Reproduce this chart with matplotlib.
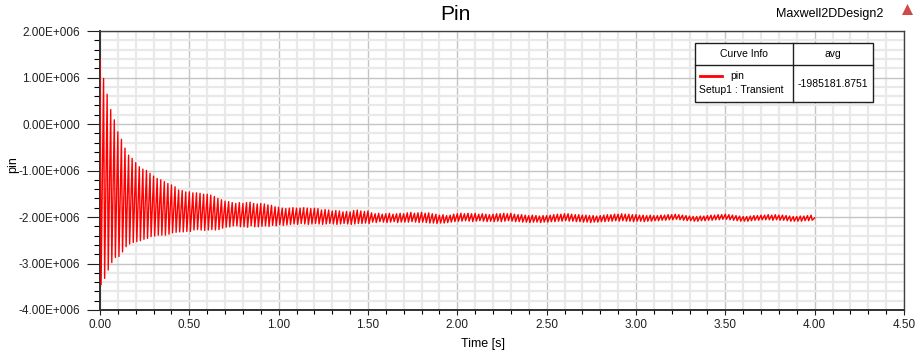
import numpy as np
import matplotlib.pyplot as plt
from matplotlib.patches import Rectangle, Polygon
from matplotlib.lines import Line2D
from matplotlib.ticker import MultipleLocator, FuncFormatter

plt.rcParams['font.family'] = ['Liberation Sans', 'DejaVu Sans']

# peak values of each 50 Hz cycle, in 1E6 units
upper = [
    1.38, 0.98, 0.64, 0.31, 0.09, -0.17, -0.33, -0.52, -0.67, -0.74,
    -0.83, -0.92, -0.97, -1.00, -1.06, -1.12, -1.17, -1.20, -1.24, -1.28,
    -1.31, -1.35, -1.42, -1.43, -1.46, -1.46, -1.48, -1.48, -1.49, -1.51,
    -1.51, -1.53, -1.56, -1.60, -1.63, -1.66, -1.67, -1.69, -1.71, -1.69,
    -1.71, -1.69, -1.68, -1.71, -1.72, -1.71, -1.72, -1.74, -1.75, -1.78,
    -1.79, -1.81, -1.82, -1.81, -1.80, -1.81, -1.81, -1.80, -1.81, -1.82,
    -1.81, -1.82, -1.85, -1.84, -1.85, -1.87, -1.86, -1.87, -1.89, -1.88,
    -1.89, -1.86, -1.85, -1.87, -1.88, -1.87, -1.91, -1.93, -1.92, -1.94,
    -1.93, -1.92, -1.94, -1.93, -1.92, -1.93, -1.91, -1.90, -1.92, -1.91,
    -1.90, -1.92, -1.91, -1.93, -1.94, -1.96, -1.95, -1.97, -1.96, -1.94,
    -1.93, -1.92, -1.93, -1.92, -1.93, -1.92, -1.94, -1.93, -1.94, -1.95,
    -1.94, -1.93, -1.93, -1.92, -1.93, -1.92, -1.94, -1.95, -1.95, -1.96,
    -1.97, -1.96, -1.97, -1.98, -1.97, -1.97, -1.96, -1.95, -1.94, -1.94,
    -1.93, -1.93, -1.94, -1.95, -1.95, -1.96, -1.96, -1.97, -1.97, -1.98,
    -1.97, -1.96, -1.95, -1.95, -1.94, -1.94, -1.93, -1.94, -1.94, -1.95,
    -1.95, -1.96, -1.96, -1.97, -1.96, -1.97, -1.97, -1.96, -1.96, -1.95,
    -1.95, -1.94, -1.95, -1.96, -1.97, -1.98, -1.99, -1.99, -1.98, -1.98,
    -1.97, -1.96, -1.96, -1.95, -1.95, -1.94, -1.95, -1.96, -1.97, -1.98,
    -1.99, -1.99, -1.98, -1.97, -1.97, -1.96, -1.96, -1.95, -1.96, -1.95,
    -1.96, -1.96, -1.97, -1.98, -1.99, -1.99, -1.98, -1.98, -1.97, -1.96,
]
lower = [
    -3.46, -3.32, -3.14, -2.98, -2.87, -2.85, -2.75, -2.64, -2.58, -2.55,
    -2.53, -2.51, -2.48, -2.46, -2.42, -2.41, -2.39, -2.39, -2.39, -2.37,
    -2.34, -2.33, -2.32, -2.32, -2.31, -2.31, -2.28, -2.27, -2.28, -2.29,
    -2.28, -2.27, -2.28, -2.27, -2.24, -2.22, -2.21, -2.19, -2.19, -2.21,
    -2.21, -2.22, -2.19, -2.21, -2.21, -2.20, -2.19, -2.20, -2.18, -2.19,
    -2.17, -2.18, -2.17, -2.16, -2.15, -2.16, -2.14, -2.15, -2.16, -2.15,
    -2.14, -2.15, -2.16, -2.15, -2.14, -2.15, -2.16, -2.15, -2.14, -2.15,
    -2.16, -2.15, -2.14, -2.14, -2.13, -2.14, -2.11, -2.12, -2.10, -2.11,
    -2.12, -2.11, -2.10, -2.12, -2.11, -2.11, -2.11, -2.10, -2.11, -2.12,
    -2.11, -2.12, -2.13, -2.13, -2.14, -2.13, -2.13, -2.12, -2.11, -2.10,
    -2.09, -2.09, -2.08, -2.09, -2.10, -2.09, -2.08, -2.09, -2.10, -2.09,
    -2.10, -2.09, -2.10, -2.09, -2.08, -2.09, -2.10, -2.10, -2.11, -2.11,
    -2.12, -2.11, -2.11, -2.12, -2.11, -2.11, -2.10, -2.10, -2.09, -2.09,
    -2.08, -2.09, -2.09, -2.10, -2.10, -2.11, -2.11, -2.12, -2.11, -2.11,
    -2.10, -2.10, -2.09, -2.09, -2.08, -2.09, -2.08, -2.09, -2.09, -2.10,
    -2.09, -2.09, -2.10, -2.09, -2.09, -2.08, -2.08, -2.07, -2.07, -2.06,
    -2.06, -2.05, -2.06, -2.07, -2.08, -2.08, -2.09, -2.09, -2.08, -2.08,
    -2.07, -2.07, -2.06, -2.06, -2.05, -2.05, -2.06, -2.07, -2.08, -2.09,
    -2.09, -2.09, -2.08, -2.07, -2.07, -2.06, -2.06, -2.06, -2.07, -2.06,
    -2.07, -2.07, -2.08, -2.09, -2.09, -2.09, -2.09, -2.08, -2.08, -2.07,
]
period = 0.02      # s, one cycle
drop = 0.006       # s, from top to following trough
t_end, p_end = 4.0, -2.02

title = 'Pin'
design = 'Maxwell2DDesign2'
curve_name = 'pin'
setup_name = 'Setup1 : Transient'
avg_text = '-1985181.8751'

W, H = 916, 351
fig = plt.figure(figsize=(W / 100, H / 100), dpi=100)
ax = fig.add_axes([100 / W, 1 - 310 / H, 804 / W, 279 / H])

t_top = period * np.arange(len(upper))
t = np.column_stack([t_top, t_top + drop]).ravel()
p = np.column_stack([upper, lower]).ravel()
t = np.append(t, t_end)
p = np.append(p, p_end) * 1e6
ax.plot(t, p, color='#ff0000', lw=1.0, zorder=3)

ax.set_xlim(0, 4.5)
ax.set_ylim(-4e6, 2e6)
ax.xaxis.set_major_locator(MultipleLocator(0.5))
ax.xaxis.set_minor_locator(MultipleLocator(0.1))
ax.yaxis.set_major_locator(MultipleLocator(1e6))
ax.yaxis.set_minor_locator(MultipleLocator(0.2e6))
ax.xaxis.set_major_formatter(FuncFormatter(lambda v, pos: '%.2f' % v))


def yfmt(v, pos):
    if abs(v) < 1:
        return '0.00E+000'
    return '%.2fE+006' % (v / 1e6)


ax.yaxis.set_major_formatter(FuncFormatter(yfmt))
ax.grid(which='minor', color='#e9e9e9', lw=1.6, zorder=0)
ax.grid(which='major', color='#c4c4c4', lw=1.0, zorder=1)
ax.set_axisbelow(True)
ax.tick_params(axis='both', labelsize=8.5, colors='#202020')
# lengths given in pt (1 px = 0.72 pt at 100 dpi)
ax.tick_params(axis='y', which='major', length=9.4, width=0.8, pad=5)
ax.tick_params(axis='y', which='minor', length=4.3, width=0.8)
ax.tick_params(axis='x', which='major', length=3.6, width=0.8, pad=3)
ax.tick_params(axis='x', which='minor', length=2.9, width=0.8)
for side in ['left', 'bottom']:
    ax.spines[side].set_linewidth(1.4)
    ax.spines[side].set_color('#303030')
for side in ['top', 'right']:
    ax.spines[side].set_linewidth(1.0)
    ax.spines[side].set_color('#404040')

ax.set_xlabel('Time [s]', fontsize=9)
ax.xaxis.set_label_coords((483 - 100) / 804, -0.1)
ax.set_ylabel('pin', fontsize=9)
ax.yaxis.set_label_coords(-0.1, 0.52)


def fx(x):
    return x / W


def fy(y):
    return 1 - y / H


fig.text(fx(455), fy(14), title, fontsize=15, ha='center', va='center')
fig.text(fx(883), fy(14), design, fontsize=9, ha='right', va='center')
fig.add_artist(Polygon([[fx(902), fy(15)], [fx(913), fy(15)], [fx(907.5), fy(4)]],
                       closed=True, transform=fig.transFigure, fc='#d04848', ec='none'))

# curve info box
fig.add_artist(Rectangle((fx(695), fy(102)), (873 - 695) / W, (102 - 43) / H,
                         transform=fig.transFigure, fc='white', ec='#202020', lw=1, zorder=5))
fig.add_artist(Line2D([fx(793), fx(793)], [fy(43), fy(102)], transform=fig.transFigure,
                      color='#202020', lw=1, zorder=6))
fig.add_artist(Line2D([fx(695), fx(873)], [fy(65), fy(65)], transform=fig.transFigure,
                      color='#202020', lw=1, zorder=6))
fig.add_artist(Line2D([fx(700), fx(722)], [fy(76), fy(76)], transform=fig.transFigure,
                      color='#ff0000', lw=2, zorder=6))
fig.text(fx(744), fy(54), 'Curve Info', fontsize=7.5, ha='center', va='center', zorder=7)
fig.text(fx(833), fy(54), 'avg', fontsize=7.5, ha='center', va='center', zorder=7)
fig.text(fx(730), fy(76), curve_name, fontsize=7.5, ha='left', va='center', zorder=7)
fig.text(fx(699), fy(90), setup_name, fontsize=7.5, ha='left', va='center', zorder=7)
fig.text(fx(833), fy(84), avg_text, fontsize=7.5, ha='center', va='center', zorder=7)

fig.savefig('out.png', dpi=100)
